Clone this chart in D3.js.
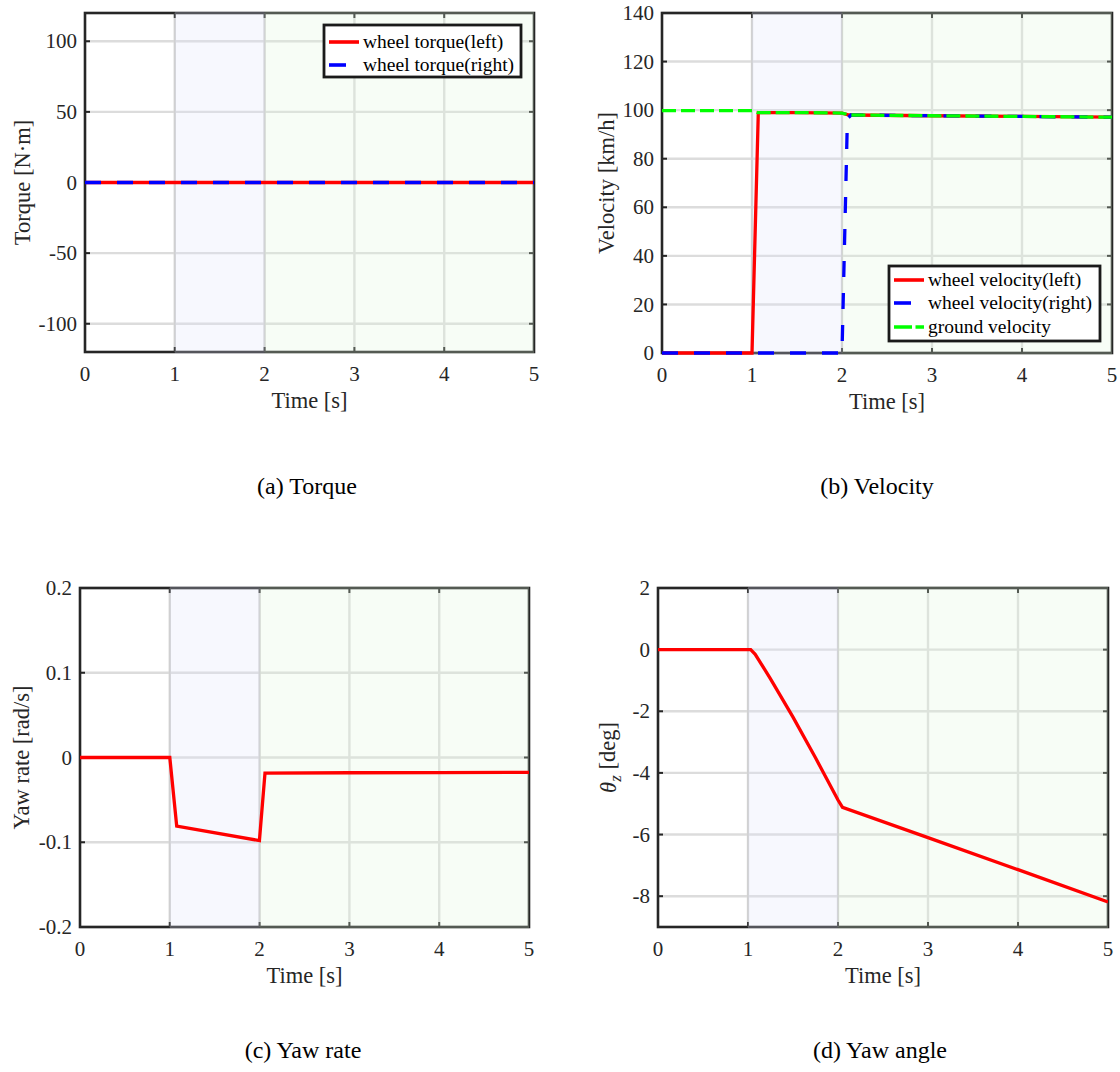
<!DOCTYPE html>
<html>
<head>
<meta charset="utf-8">
<script src="https://cdn.jsdelivr.net/npm/d3@7"></script>
<style>
  body { margin: 0; background: #fff; }
  svg { display: block; font-family: "Liberation Serif", "Times New Roman", serif; }
</style>
</head>
<body>
<svg id="chart" width="1120" height="1072"></svg>
<script>
// ---- data ----
const timeTicks = [0, 1, 2, 3, 4, 5];

const torqueTime = [0, 5];
const torqueLeft = [0, 0];
const torqueRight = [0, 0];
const torqueTicks = [-100, -50, 0, 50, 100];

const velLeftTime = [0, 1.0, 1.07, 1.5, 2.0, 2.08, 3, 4, 5];
const velLeft = [0, 0, 99.0, 99.0, 98.8, 98.0, 97.7, 97.4, 97.1];
const velRightTime = [0, 2.0, 2.06, 2.1, 3, 4, 5];
const velRight = [0, 0, 96.5, 98.0, 97.7, 97.4, 97.1];
const velGroundTime = [0, 1.0, 1.06, 1.5, 2.0, 2.08, 3, 4, 5];
const velGround = [99.8, 99.8, 99.0, 99.0, 98.8, 98.0, 97.7, 97.4, 97.1];
const velTicks = [0, 20, 40, 60, 80, 100, 120, 140];

const yawRateTime = [0, 1.0, 1.077, 1.998, 2.06, 3, 4, 5];
const yawRate = [0, 0, -0.081, -0.098, -0.0185, -0.018, -0.0178, -0.0175];
const yawRateTicks = [-0.2, -0.1, 0, 0.1, 0.2];

const yawAngleTime = [0, 1.03, 1.08, 1.25, 1.5, 1.75, 2.0, 2.05, 3, 4, 5];
const yawAngle = [0, 0, -0.15, -0.95, -2.19, -3.51, -4.88, -5.12, -6.1, -7.14, -8.19];
const yawAngleTicks = [-8, -6, -4, -2, 0, 2];

// shaded phases [start, end]
const phases = [[1, 2], [2, 5]];
const phaseColors = ["rgb(222,226,250)", "rgb(222,246,218)"];

const zip = (t, v) => t.map((d, i) => [d, v[i]]);

const panels = [
  {
    box: { left: 85, right: 534, top: 13, bottom: 352 },
    yDomain: [-120, 120], yTicks: torqueTicks, ylabel: "Torque [N\u00b7m]", ylabelX: 22,
    caption: "(a) Torque", capX: 307, capY: 494,
    series: [
      { name: "wheel torque(left)", data: zip(torqueTime, torqueLeft), color: "#ff0000", dash: null, key: null },
      { name: "wheel torque(right)", data: zip(torqueTime, torqueRight), color: "#0000ff", dash: "16,16", key: "17,13" }
    ],
    legend: { x: 324, y: 25, w: 197, h: 52, rows: [42, 65] }
  },
  {
    box: { left: 662, right: 1112, top: 13, bottom: 353 },
    yDomain: [0, 140], yTicks: velTicks, ylabel: "Velocity [km/h]", ylabelX: 606,
    caption: "(b) Velocity", capX: 877, capY: 494,
    series: [
      { name: "wheel velocity(left)", data: zip(velLeftTime, velLeft), color: "#ff0000", dash: null, key: null },
      { name: "wheel velocity(right)", data: zip(velRightTime, velRight), color: "#0000ff", dash: "16,16", key: "17,13" },
      { name: "ground velocity", data: zip(velGroundTime, velGround), color: "#00ff00", dash: "14,5", key: "18,3.5" }
    ],
    legend: { x: 889, y: 266, w: 211, h: 75, rows: [280, 303, 327] }
  },
  {
    box: { left: 80, right: 529, top: 588, bottom: 927 },
    yDomain: [-0.2, 0.2], yTicks: yawRateTicks, ylabel: "Yaw rate [rad/s]", ylabelX: 21,
    caption: "(c) Yaw rate", capX: 303, capY: 1058,
    series: [
      { name: "yaw rate", data: zip(yawRateTime, yawRate), color: "#ff0000", dash: null }
    ],
    legend: null
  },
  {
    box: { left: 658, right: 1108, top: 588, bottom: 927 },
    yDomain: [-9, 2], yTicks: yawAngleTicks, ylabel: null, ylabelX: 608,
    caption: "(d) Yaw angle", capX: 880, capY: 1058,
    series: [
      { name: "yaw angle", data: zip(yawAngleTime, yawAngle), color: "#ff0000", dash: null }
    ],
    legend: null
  }
];

const svg = d3.select("#chart");
const axisColor = "#262626";

panels.forEach((p, idx) => {
  const b = p.box;
  const x = d3.scaleLinear().domain([0, 5]).range([b.left, b.right]);
  const y = d3.scaleLinear().domain(p.yDomain).range([b.bottom, b.top]);
  const g = svg.append("g");

  // grid
  g.append("g").selectAll("line").data(timeTicks.slice(1, -1)).join("line")
    .attr("x1", d => x(d)).attr("x2", d => x(d))
    .attr("y1", b.top).attr("y2", b.bottom)
    .attr("stroke", "#dcdcdc").attr("stroke-width", 2.4);
  g.append("g").selectAll("line").data(p.yTicks).join("line")
    .attr("x1", b.left).attr("x2", b.right)
    .attr("y1", d => y(d)).attr("y2", d => y(d))
    .attr("stroke", "#dcdcdc").attr("stroke-width", 2.4);

  // frame
  g.append("rect")
    .attr("x", b.left).attr("y", b.top)
    .attr("width", b.right - b.left).attr("height", b.bottom - b.top)
    .attr("fill", "none").attr("stroke", axisColor).attr("stroke-width", 2.6);

  // inward ticks
  const tl = 5;
  const tk = g.append("g").attr("stroke", axisColor).attr("stroke-width", 2);
  timeTicks.forEach(t => {
    tk.append("line").attr("x1", x(t)).attr("x2", x(t)).attr("y1", b.bottom).attr("y2", b.bottom - tl);
    tk.append("line").attr("x1", x(t)).attr("x2", x(t)).attr("y1", b.top).attr("y2", b.top + tl);
  });
  p.yTicks.forEach(v => {
    tk.append("line").attr("x1", b.left).attr("x2", b.left + tl).attr("y1", y(v)).attr("y2", y(v));
    tk.append("line").attr("x1", b.right).attr("x2", b.right - tl).attr("y1", y(v)).attr("y2", y(v));
  });

  // shaded phases (translucent, drawn over grid and frame)
  phases.forEach((ph, i) => {
    g.append("rect")
      .attr("x", x(ph[0])).attr("y", b.top - 1.5)
      .attr("width", x(ph[1]) - x(ph[0])).attr("height", b.bottom - b.top + 3)
      .attr("fill", phaseColors[i]).attr("fill-opacity", 0.25);
    g.append("line")
      .attr("x1", x(ph[0])).attr("x2", x(ph[0]))
      .attr("y1", b.top).attr("y2", b.bottom)
      .attr("stroke", "#a0a0a0").attr("stroke-opacity", 0.18).attr("stroke-width", 2);
  });

  // tick labels
  g.append("g").selectAll("text").data(timeTicks).join("text")
    .attr("x", d => x(d)).attr("y", b.bottom + 29)
    .attr("text-anchor", "middle").attr("font-size", 21).attr("fill", axisColor)
    .text(d => d);
  g.append("g").selectAll("text").data(p.yTicks).join("text")
    .attr("x", b.left - 8).attr("y", d => y(d)).attr("dy", "0.34em")
    .attr("text-anchor", "end").attr("font-size", 21).attr("fill", axisColor)
    .text(d => String(d));

  // axis labels
  g.append("text")
    .attr("x", (b.left + b.right) / 2).attr("y", b.bottom + 56)
    .attr("text-anchor", "middle").attr("font-size", 22.5).attr("fill", axisColor)
    .text("Time [s]");
  const cy = (b.top + b.bottom) / 2;
  const yl = g.append("text")
    .attr("transform", `translate(${p.ylabelX},${cy}) rotate(-90)`)
    .attr("dy", "0.35em")
    .attr("text-anchor", "middle").attr("font-size", 22.5).attr("fill", axisColor);
  if (p.ylabel) {
    yl.text(p.ylabel);
  } else {
    yl.append("tspan").attr("font-style", "italic").text("\u03b8");
    yl.append("tspan").attr("font-style", "italic").attr("font-size", 17).attr("dy", "0.3em").text("z");
    yl.append("tspan").attr("dy", "-0.25em").text(" [deg]");
  }

  // data lines
  const clipId = "clip" + idx;
  svg.append("clipPath").attr("id", clipId).append("rect")
    .attr("x", b.left).attr("y", b.top - 2).attr("width", b.right - b.left).attr("height", b.bottom - b.top + 4);
  const line = d3.line().x(d => x(d[0])).y(d => y(d[1]));
  const lg = g.append("g").attr("clip-path", `url(#${clipId})`);
  p.series.forEach(s => {
    lg.append("path").datum(s.data)
      .attr("d", line)
      .attr("fill", "none").attr("stroke", s.color).attr("stroke-width", 3.3)
      .attr("stroke-dasharray", s.dash);
  });

  // legend
  if (p.legend) {
    const L = p.legend;
    g.append("rect").attr("x", L.x).attr("y", L.y).attr("width", L.w).attr("height", L.h)
      .attr("fill", "#fff").attr("stroke", "#1a1a1a").attr("stroke-width", 2.8);
    p.series.forEach((s, i) => {
      const ry = L.rows[i];
      g.append("line").attr("x1", L.x + 5).attr("x2", L.x + 35).attr("y1", ry).attr("y2", ry)
        .attr("stroke", s.color).attr("stroke-width", 3.6)
        .attr("stroke-dasharray", s.key);
      g.append("text").attr("x", L.x + 39).attr("y", ry).attr("dy", "0.33em")
        .attr("font-size", 19.5).attr("fill", "#000").text(s.name);
    });
  }

  // caption
  svg.append("text").attr("x", p.capX).attr("y", p.capY)
    .attr("text-anchor", "middle").attr("font-size", 24).attr("fill", "#000")
    .text(p.caption);
});
</script>
</body>
</html>
